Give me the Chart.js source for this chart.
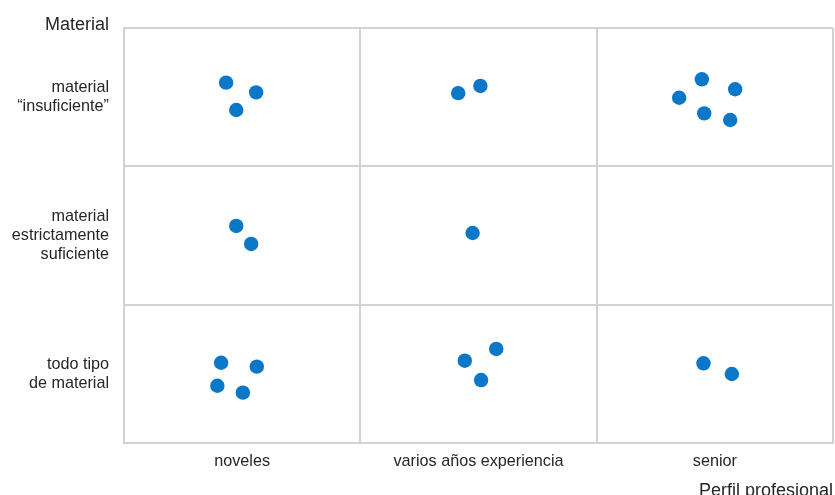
<!DOCTYPE html>
<html>
<head>
<meta charset="utf-8">
<script src="https://cdn.jsdelivr.net/npm/chart.js@4"></script>
<style>
  html, body { margin: 0; padding: 0; background: #ffffff; }
  #wrap { width: 835px; height: 495px; position: relative; }
</style>
</head>
<body>
<div id="wrap"><canvas id="c" width="835" height="495"></canvas></div>
<script>
// Column categories (x axis), left to right
const xCategories = ["noveles", "varios años experiencia", "senior"];
// Row categories (y axis), top to bottom, multi-line labels
const yCategories = [
  ["material", "\u201cinsuficiente\u201d"],
  ["material", "estrictamente", "suficiente"],
  ["todo tipo", "de material"]
];
const xTitle = "Perfil profesional";
const yTitle = "Material";

// Point positions in category units (0..3 each axis; y counted from bottom)
const pointsX = [
  0.432, 0.559, 0.475,
  1.414, 1.508,
  2.349, 2.445, 2.586, 2.455, 2.565,
  0.475, 0.538,
  1.475,
  0.411, 0.562, 0.395, 0.503,
  1.442, 1.575, 1.511,
  2.452, 2.572
];
const pointsY = [
  2.605, 2.535, 2.407,
  2.529, 2.581,
  2.496, 2.629, 2.557, 2.383, 2.335,
  1.569, 1.439,
  1.518,
  0.580, 0.552, 0.414, 0.364,
  0.595, 0.680, 0.455,
  0.576, 0.499
];

const data = pointsX.map((x, i) => ({ x: x, y: pointsY[i] }));

const FONT = "'Liberation Sans', Arial, Helvetica, sans-serif";
const TEXT = "#262626";
const GRID = "#d2d2d2";

const titlesPlugin = {
  id: 'axisTitles',
  afterDraw(chart) {
    const ctx = chart.ctx;
    ctx.save();
    ctx.fillStyle = TEXT;
    ctx.font = "18px " + FONT;
    ctx.textBaseline = "alphabetic";
    ctx.textAlign = "right";
    ctx.fillText(yTitle, 109, 30);
    ctx.textAlign = "left";
    ctx.fillText(xTitle, 699, 496);
    ctx.restore();
  }
};

function zeroPad(s) {
  s.paddingTop = 0; s.paddingBottom = 0; s.paddingLeft = 0; s.paddingRight = 0;
}

new Chart(document.getElementById('c'), {
  type: 'scatter',
  data: {
    datasets: [{
      data: data,
      backgroundColor: '#0a77c8',
      borderColor: '#0a77c8',
      borderWidth: 0,
      pointRadius: 7.2,
      pointHoverRadius: 7.2
    }]
  },
  options: {
    responsive: false,
    animation: false,
    events: [],
    layout: { autoPadding: false, padding: { top: 28, right: 2, left: 0, bottom: 0 } },
    plugins: {
      legend: { display: false },
      tooltip: { enabled: false },
      title: { display: false }
    },
    scales: {
      x: {
        type: 'linear',
        min: 0,
        max: 3,
        afterBuildTicks: s => { s.ticks = xCategories.map((_, i) => ({ value: i + 0.5 })); },
        afterFit: s => { s.height = 52; zeroPad(s); },
        ticks: {
          callback: (v, i) => xCategories[i],
          font: { family: FONT, size: 16.2 },
          color: TEXT,
          padding: 9,
          maxRotation: 0,
          autoSkip: false
        },
        grid: { offset: true, color: GRID, lineWidth: 2, drawTicks: false },
        border: { color: GRID, width: 2 }
      },
      y: {
        type: 'linear',
        min: 0,
        max: 3,
        afterBuildTicks: s => { s.ticks = yCategories.map((_, i) => ({ value: i + 0.5 })); },
        afterFit: s => { s.width = 124; zeroPad(s); },
        ticks: {
          callback: (v, i) => yCategories[yCategories.length - 1 - i],
          font: { family: FONT, size: 16.2, lineHeight: 1.15 },
          color: TEXT,
          padding: 15,
          autoSkip: false
        },
        grid: { offset: true, color: GRID, lineWidth: 2, drawTicks: false },
        border: { color: GRID, width: 2 }
      }
    }
  },
  plugins: [titlesPlugin]
});
</script>
</body>
</html>
